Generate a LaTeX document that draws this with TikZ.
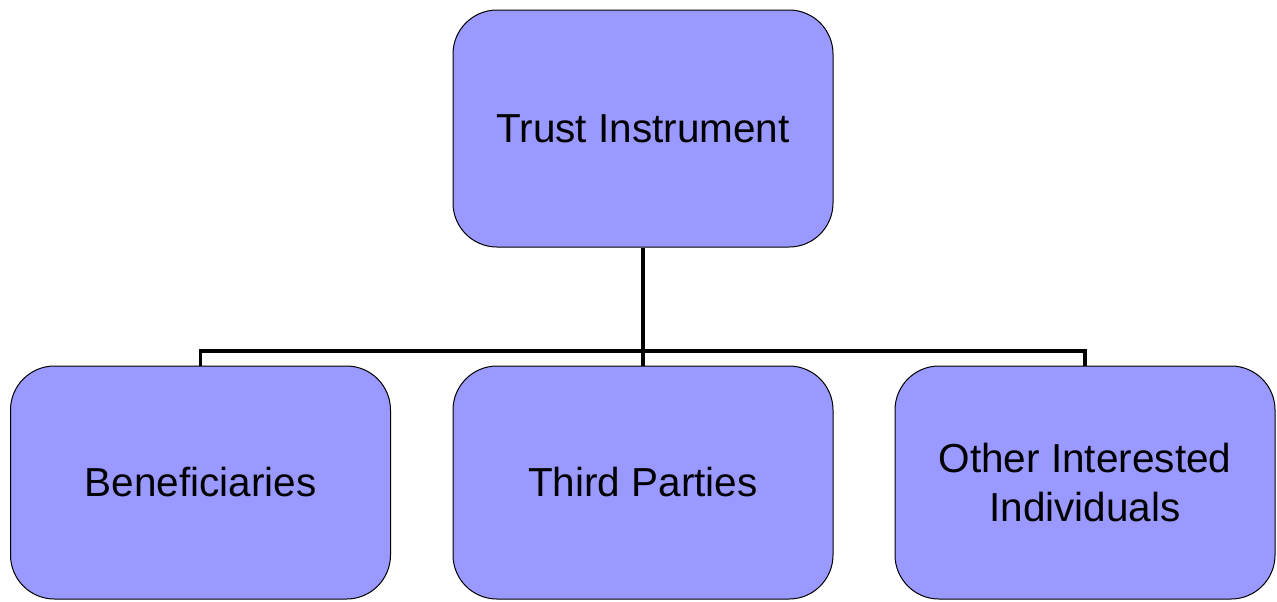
\documentclass[tikz,border=0pt]{standalone}
\usepackage{fontspec}
\setmainfont{Liberation Sans}
\definecolor{BoxBlue}{HTML}{9999FF}

\begin{document}
\begin{tikzpicture}[
        %Environment Config
        x=0.5pt,
        y=-0.5pt,
        font=\fontsize{20.25}{24.5}\selectfont,
        TrustBox/.style={%Style for the boxes
            draw=black,
            fill=BoxBlue,
            line width=0.5pt,
            rounded corners=22pt,
            minimum width=190pt,
            align=center,
            inner sep=0pt
        },
        Link/.style={%Style for the connectors
            draw=black,
            line width=1.8pt
        }
    ]
    \useasboundingbox (0,0) rectangle (1277,601);

    % top box
    \node[TrustBox, minimum height=118.5pt] (Top) at (643,128.5) {Trust Instrument};

    % lower boxes
    \node[TrustBox, minimum height=116.5pt] (Ben) at (200.5,482.5) {Beneficiaries};
    \node[TrustBox, minimum height=116.5pt] (Mid) at (643,482.5) {Third Parties};
    \node[TrustBox, minimum height=116.5pt] (Oth) at (1085,482.5) {Other Interested\\Individuals};

    % connectors
    \coordinate (Bar) at (643,351);
    \draw[Link] (Top.south) -- (Mid.north);
    \draw[Link] (Ben.north) |- (Bar) -| (Oth.north);
\end{tikzpicture}
\end{document}
